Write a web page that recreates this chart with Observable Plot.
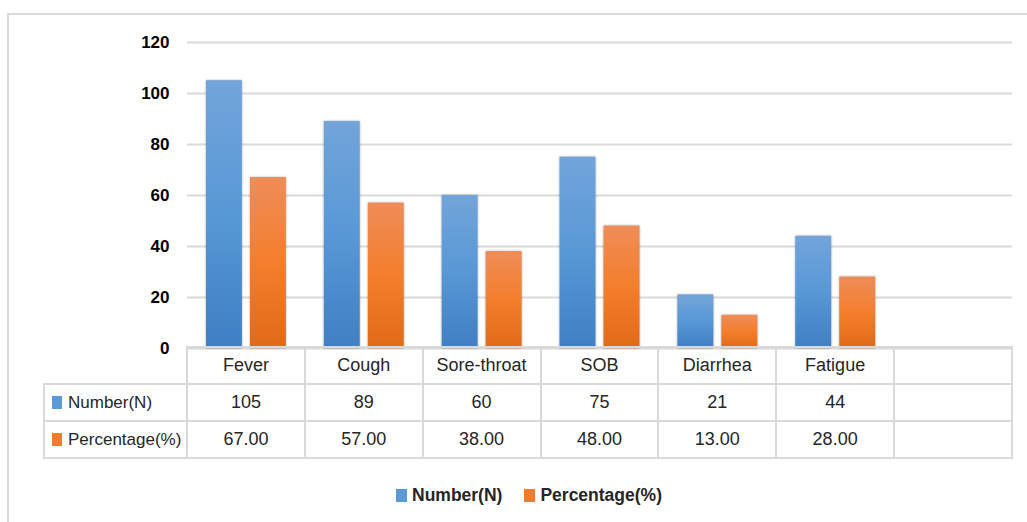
<!DOCTYPE html>
<html>
<head>
<meta charset="utf-8">
<script src="https://cdn.jsdelivr.net/npm/d3@7"></script>
<script src="https://cdn.jsdelivr.net/npm/@observablehq/plot@0.6"></script>
<style>
  html, body { margin: 0; padding: 0; background: #fff; }
  body {
    width: 1027px; height: 522px; overflow: hidden; position: relative;
    font-family: "Liberation Sans", Arial, sans-serif;
    color: #262626;
  }
  #frame {
    position: absolute; left: 7px; top: 13px; width: 1100px; height: 600px;
    border: 2px solid #d9d9d9; box-sizing: border-box;
  }
  #chart { position: absolute; left: 0; top: 0; }
  #chart svg { overflow: visible; }
  #chart rect.bar { filter: drop-shadow(0 0 1.2px rgba(0,0,0,0.35)); }
  #datatable {
    position: absolute; top: 346px; border-collapse: collapse; table-layout: fixed;
    font-size: 18px; color: #262626;
  }
  #datatable td {
    border: 2px solid #d9d9d9; text-align: center; padding: 0; height: 35px;
    white-space: nowrap; overflow: hidden;
  }
  #datatable td.blank { border: none; }
  #datatable td.rowhead { text-align: left; padding-left: 7px; font-size: 17px; }
  .swatch { display: inline-block; width: 10px; height: 13px; margin-right: 6px; vertical-align: -1px; }
  #legend {
    position: absolute; top: 485px; left: 396px; display: flex; align-items: center;
    font-size: 17.5px; font-weight: bold; color: #262626;
  }
  #legend .item { display: flex; align-items: center; margin-right: 22px; }
  #legend .swatch { width: 11px; height: 13px; margin-right: 5px; }
</style>
</head>
<body>
<div id="frame"></div>
<div id="chart"></div>
<table id="datatable"></table>
<div id="legend"></div>
<script>
// Symptoms reported, count and share of patients
const symptoms = ["Fever", "Cough", "Sore-throat", "SOB", "Diarrhea", "Fatigue"];
const numberN = [105, 89, 60, 75, 21, 44];
const percentage = [67, 57, 38, 48, 13, 28];
const seriesNames = ["Number(N)", "Percentage(%)"];
const yTicks = [0, 20, 40, 60, 80, 100, 120];
// the data table carries one trailing empty column
const columns = [...symptoms, ""];

const seriesColors = { "Number(N)": "#5b9bd5", "Percentage(%)": "#ed7d31" };
const gradientStops = {
  "Number(N)": ["#72a5da", "#5898d6", "#3f7fc3"],
  "Percentage(%)": ["#ef8d58", "#f47e2c", "#e16a18"]
};
const gradientId = { "Number(N)": "grad-number", "Percentage(%)": "grad-percentage" };

const numberRows = symptoms.map((s, i) => ({ symptom: s, series: seriesNames[0], value: numberN[i] }));
const percentRows = symptoms.map((s, i) => ({ symptom: s, series: seriesNames[1], value: percentage[i] }));

// vertical gradients used as bar fills
function gradientDefs() {
  const ns = "http://www.w3.org/2000/svg";
  const defs = document.createElementNS(ns, "defs");
  for (const name of seriesNames) {
    const g = document.createElementNS(ns, "linearGradient");
    g.setAttribute("id", gradientId[name]);
    g.setAttribute("x1", "0"); g.setAttribute("y1", "0");
    g.setAttribute("x2", "0"); g.setAttribute("y2", "1");
    gradientStops[name].forEach((c, k, arr) => {
      const st = document.createElementNS(ns, "stop");
      st.setAttribute("offset", String(k / (arr.length - 1)));
      st.setAttribute("stop-color", c);
      g.appendChild(st);
    });
    defs.appendChild(g);
  }
  return defs;
}

const fontFamily = '"Liberation Sans", Arial, sans-serif';

const chart = Plot.plot({
  width: 1027,
  height: 350,
  marginLeft: 187,
  marginRight: 15,
  marginTop: 42,
  marginBottom: 2,
  style: { fontFamily, background: "transparent", overflow: "visible" },
  x: { domain: columns, padding: 0, round: false, axis: null },
  y: { domain: [0, 120] },
  marks: [
    gradientDefs,
    Plot.gridY(yTicks, { stroke: "#d9d9d9", strokeOpacity: 1, strokeWidth: 2 }),
    Plot.axisY(yTicks, {
      tickSize: 0, tickPadding: 18, fontSize: 17, fontWeight: "bold",
      fill: "#000", label: null, tickFormat: d => String(d)
    }),
    Plot.barY(numberRows, {
      x: "symptom", y: "value", fill: `url(#${gradientId["Number(N)"]})`,
      insetLeft: 19, insetRight: 63
    }),
    Plot.barY(percentRows, {
      x: "symptom", y: "value", fill: `url(#${gradientId["Percentage(%)"]})`,
      insetLeft: 63, insetRight: 19
    })
  ]
});
chart.querySelectorAll("g[aria-label='bar'] rect").forEach(r => r.classList.add("bar"));
document.getElementById("chart").appendChild(chart);

// data table aligned to the chart's category bands
const xs = chart.scale("x");
const headLeft = 44;
const headWidth = xs.range[0] - headLeft;
const table = d3.select("#datatable")
  .style("left", (headLeft - 1) + "px")
  .style("width", (headWidth + xs.step * columns.length + 2) + "px");
const colgroup = table.append("colgroup");
colgroup.append("col").style("width", headWidth + "px");
columns.forEach(() => colgroup.append("col").style("width", xs.step + "px"));

const header = table.append("tr");
header.append("td").attr("class", "blank");
columns.forEach(c => header.append("td").text(c));

const seriesValues = { "Number(N)": numberN.map(String), "Percentage(%)": percentage.map(v => v.toFixed(2)) };
for (const name of seriesNames) {
  const tr = table.append("tr");
  const th = tr.append("td").attr("class", "rowhead");
  th.append("span").attr("class", "swatch").style("background", seriesColors[name]);
  th.append("span").text(name);
  columns.forEach((c, i) => tr.append("td").text(i < symptoms.length ? seriesValues[name][i] : ""));
}

// legend
const legend = d3.select("#legend");
for (const name of seriesNames) {
  const item = legend.append("div").attr("class", "item");
  item.append("span").attr("class", "swatch").style("background", seriesColors[name]);
  item.append("span").text(name);
}
</script>
</body>
</html>
